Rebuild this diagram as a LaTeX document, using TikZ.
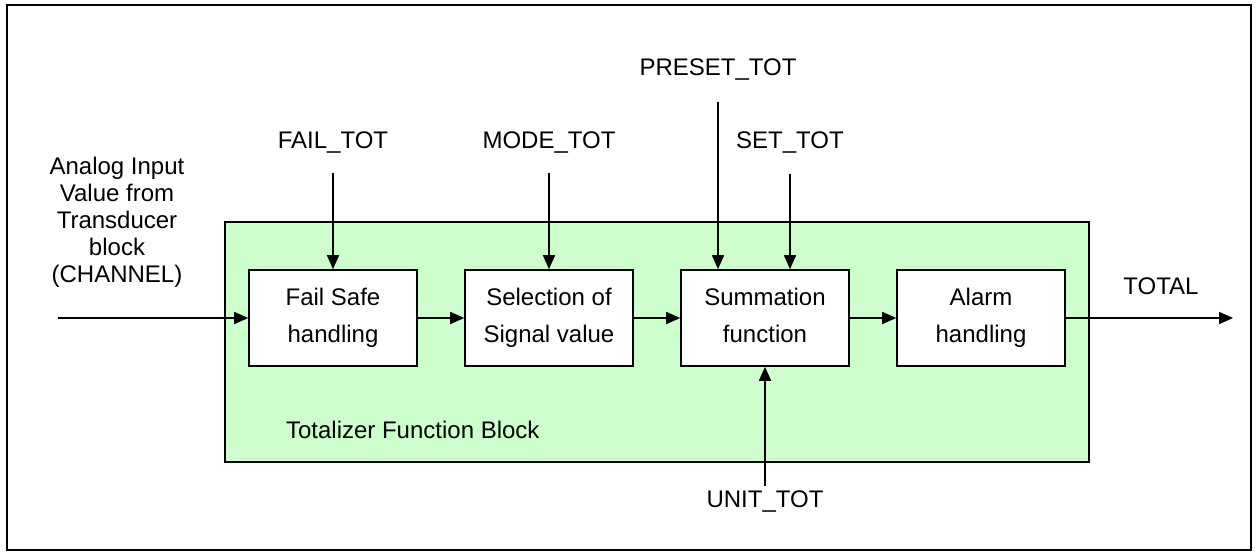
\documentclass[tikz,border=0pt]{standalone}
\usepackage{fontspec}
\setmainfont{Liberation Sans}
\usetikzlibrary{arrows.meta, positioning}

\definecolor{blockgreen}{HTML}{CCFFCC}

\begin{document}
\begin{tikzpicture}[x=0.5pt, y=-0.5pt, font=\fontsize{12}{13.5}\selectfont,
	funcbox/.style={draw, line width=0.8pt, fill=white, minimum width=84pt, minimum height=48pt, align=center, font=\fontsize{12}{18.5}\selectfont, text depth=2.6pt, inner sep=0pt},
	sig/.style={line width=0.8pt, -{Triangle[length=7pt, width=6pt]}}]
			\useasboundingbox (0, 0) rectangle (1258, 556);
			\draw[line width=1pt] (7, 5) rectangle (1251, 550);
			
			\draw[line width=0.8pt, fill=blockgreen] (225, 222) rectangle (1089, 462);
			\node [anchor=west] (blocklabel) at (279, 430) {Totalizer Function Block};
			
			\node [funcbox] (failsafe) at (333, 318) {Fail Safe\\handling};
			\node [funcbox] (selection) at (549, 318) {Selection of\\Signal value};
			\node [funcbox] (summation) at (765, 318) {Summation\\function};
			\node [funcbox] (alarm) at (981, 318) {Alarm\\handling};
			
			\node [align=center] (channel) at (117, 222) {Analog Input\\Value from\\Transducer\\block\\(CHANNEL)};
			\node [] (failtot) at (333, 143) {FAIL\_TOT};
			\node [] (modetot) at (549, 143) {MODE\_TOT};
			\node [] (presettot) at (718, 70) {PRESET\_TOT};
			\node [] (settot) at (790, 143) {SET\_TOT};
			\node [] (unittot) at (765, 502) {UNIT\_TOT};
			\node [] (total) at (1161, 286) {TOTAL};
			
			\coordinate (inleft) at (58, 318);
			\coordinate (outright) at (1233, 318);
			\coordinate (failtop) at (333, 173);
			\coordinate (modetop) at (549, 173);
			\coordinate (presettop) at (718, 102);
			\coordinate (settop) at (790, 174);
			\coordinate (unitbottom) at (765, 486);
			
			\draw[sig] (inleft) -- (failsafe);
			\draw[sig] (failsafe) -- (selection);
			\draw[sig] (selection) -- (summation);
			\draw[sig] (summation) -- (alarm);
			\draw[sig] (alarm) -- (outright);
			
			\draw[sig] (failtop) -- (failsafe.north);
			\draw[sig] (modetop) -- (selection.north);
			\draw[sig] (presettop) -- (presettop |- summation.north);
			\draw[sig] (settop) -- (settop |- summation.north);
			\draw[sig] (unitbottom) -- (summation.south);
		\end{tikzpicture}
\end{document}
